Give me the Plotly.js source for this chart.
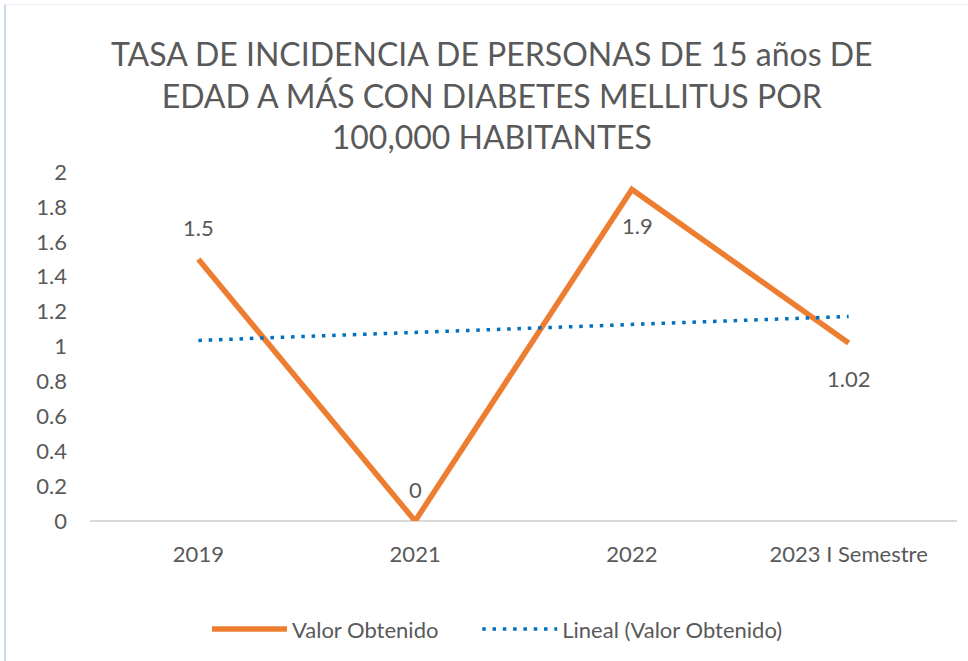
<!DOCTYPE html>
<html>
<head>
<meta charset="utf-8">
<script src="https://cdn.plot.ly/plotly-3.0.1.min.js"></script>
<style>
html,body{margin:0;padding:0;background:#fff;}
#chart{width:968px;height:661px;position:relative;}
#frame{position:absolute;left:4px;top:4px;width:980px;height:680px;border-left:2px solid #c9dcef;border-top:1px solid #edf2f7;pointer-events:none;}
</style>
</head>
<body>
<div id="chart"></div>
<div id="frame"></div>
<script>
const categories = ["2019", "2021", "2022", "2023 I Semestre"];
const valores = [1.5, 0, 1.9, 1.02];
const valorLabels = ["1.5", "0", "1.9", "1.02"];
const labelAbove = [true, true, false, false];
const tendencia = [1.035, 1.08, 1.128, 1.172];
const yTicks = [0, 0.2, 0.4, 0.6, 0.8, 1, 1.2, 1.4, 1.6, 1.8, 2];
const yTickLabels = ["0", "0.2", "0.4", "0.6", "0.8", "1", "1.2", "1.4", "1.6", "1.8", "2"];

const FONT = "Lato, 'Open Sans', 'Liberation Sans', sans-serif";
const GRAY = "#595959";

const traces = [
  {
    x: categories, y: valores, type: "scatter", mode: "lines",
    name: "Valor Obtenido&nbsp;&nbsp;&nbsp;&nbsp;&nbsp;&nbsp;",
    line: {color: "#ED7D31", width: 5.5}
  },
  {
    x: categories, y: tendencia, type: "scatter", mode: "lines",
    name: "Lineal (Valor Obtenido)",
    line: {color: "#0070C0", width: 3.5, dash: "3.5px,6.8px"}
  }
];

const annotations = categories.map((c, i) => {
  const a = {
    x: i, y: valores[i], xref: "x", yref: "y",
    text: valorLabels[i], showarrow: false,
    font: {family: FONT, size: 22, color: GRAY},
    yshift: labelAbove[i] ? 32 : -35
  };
  if (valorLabels[i] === "1.9") {
    a.showarrow = true; a.ax = 6; a.ay = 36; a.yshift = 0;
    a.arrowhead = 0; a.arrowwidth = 1.5; a.arrowcolor = "#A6A6A6";
    a.standoff = 1; a.startstandoff = 22;
  }
  return a;
});

const layout = {
  width: 968, height: 661,
  margin: {l: 90, r: 11, t: 172, b: 136},
  paper_bgcolor: "#fff", plot_bgcolor: "#fff",
  font: {family: FONT, color: GRAY},
  title: {
    text: "TASA DE INCIDENCIA DE PERSONAS DE 15 años DE<br>EDAD A MÁS CON DIABETES MELLITUS POR<br>100,000 HABITANTES",
    font: {family: FONT, size: 32, color: GRAY},
    x: 0.508, xanchor: "center", y: 0.9, yanchor: "middle"
  },
  xaxis: {
    type: "category", showgrid: false, zeroline: false,
    showline: false, ticks: "",
    tickfont: {family: FONT, size: 22, color: GRAY},
    range: [-0.5, 3.5],
    ticklabelstandoff: 18
  },
  yaxis: {
    range: [0, 2], tickvals: yTicks, ticktext: yTickLabels,
    showgrid: false, zeroline: true, zerolinecolor: "#D9D9D9", zerolinewidth: 2,
    showline: false, ticks: "",
    tickfont: {family: FONT, size: 22, color: GRAY},
    ticklabelstandoff: 22
  },
  annotations: annotations,
  showlegend: true,
  legend: {
    orientation: "h", x: 0.47, xanchor: "center", y: -0.25, yanchor: "top",
    font: {family: FONT, size: 22, color: GRAY},
    itemwidth: 75
  }
};

Plotly.newPlot("chart", traces, layout, {displayModeBar: false, staticPlot: true});
</script>
</body>
</html>
